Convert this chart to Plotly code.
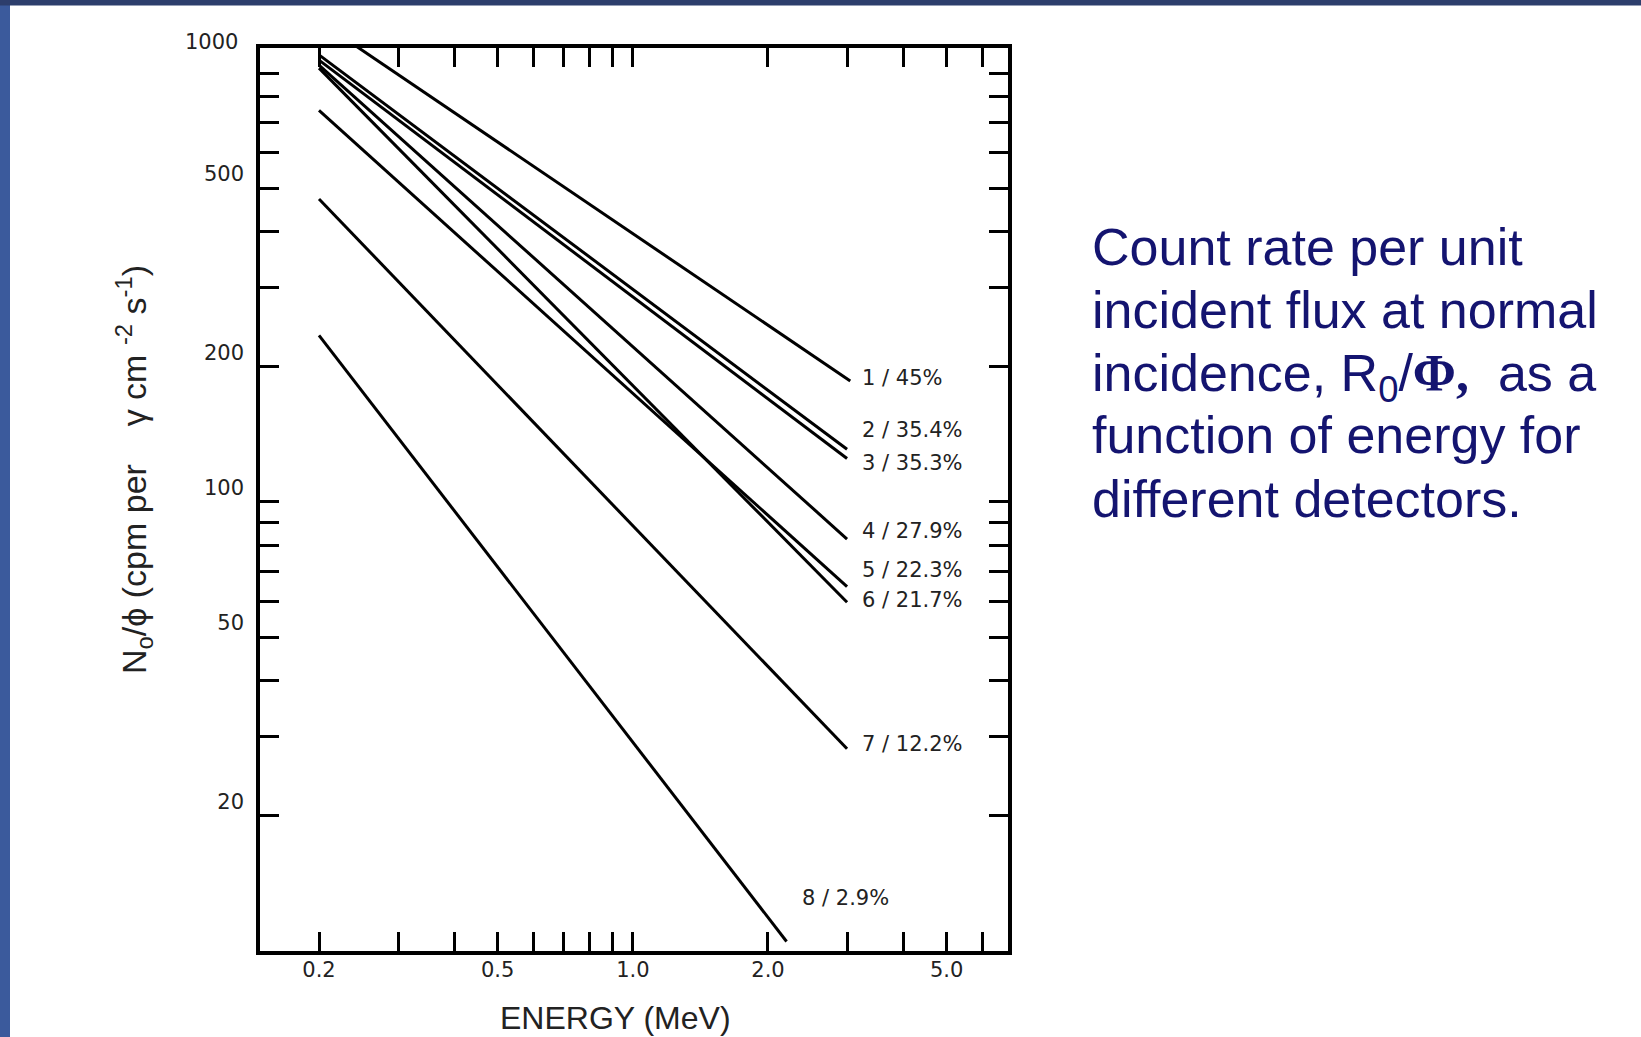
import math
import plotly.graph_objects as go

# ---------------- data ----------------
detectors = ["1 / 45%", "2 / 35.4%", "3 / 35.3%", "4 / 27.9%",
             "5 / 22.3%", "6 / 21.7%", "7 / 12.2%", "8 / 2.9%"]
energy_start = [0.2, 0.2, 0.2, 0.2, 0.2, 0.2, 0.2, 0.2]          # MeV
energy_end = [3.05, 3.0, 3.0, 3.0, 3.0, 3.0, 3.0, 2.2]           # MeV
rate_start = [1178, 990, 964, 940, 745, 925, 473, 235]           # N0/phi
rate_end = [186, 131, 125, 82.7, 64.8, 59.8, 28.2, 10.5]
label_energy = [3.2, 3.2, 3.2, 3.2, 3.2, 3.2, 3.2, 2.36]
label_rate = [189, 145, 122, 86.3, 70.6, 60.5, 28.9, 13.1]

x_tickvals = [0.2, 0.3, 0.4, 0.5, 0.6, 0.7, 0.8, 0.9, 1, 2, 3, 4, 5, 6]
x_ticktext = ["0.2", "", "", "0.5", "", "", "", "", "1.0", "2.0", "", "", "5.0", ""]
y_tickvals = [20, 30, 40, 50, 60, 70, 80, 90, 100, 200, 300, 400, 500, 600, 700, 800, 900]
y_ticktext = ["20", "", "", "50", "", "", "", "", "100", "200", "", "", "500", "", "", "", ""]
y_top_label = "1000"

x_title = "ENERGY (MeV)"
y_title = "N<sub>o</sub>/ϕ (cpm per\u00a0\u00a0\u00a0 γ cm <sup>-2</sup> s<sup>-1</sup>)"
side_lines = ["Count rate per unit",
              "incident flux at normal",
              "incidence, R<sub>0</sub>/<span style=\"font-family:'Liberation Serif'\"><b>Φ,</b></span>\u00a0 as a",
              "function of energy for",
              "different detectors."]

# ---------------- figure ----------------
W, H = 1641, 1037
L, R, T, B = 260, 1008, 48, 951
fig = go.Figure()

for name, e0, e1, r0, r1 in zip(detectors, energy_start, energy_end, rate_start, rate_end):
    fig.add_trace(go.Scatter(x=[e0, e1], y=[r0, r1], mode="lines", name=name,
                             line=dict(color="black", width=3), showlegend=False,
                             hoverinfo="skip"))

for name, le, lr in zip(detectors, label_energy, label_rate):
    fig.add_annotation(x=math.log10(le), y=math.log10(lr), xref="x", yref="y",
                       text=name, showarrow=False, xanchor="left", yanchor="middle",
                       font=dict(family="DejaVu Sans", size=21, color="#222222"))


def px_to_paper_x(px):
    return (px - L) / (R - L)


def px_to_paper_y(py):
    return (B - py) / (B - T)


TICK_FONT = dict(family="DejaVu Sans", size=21, color="#222222")

# top "1000" label (no tick at that value)
fig.add_annotation(x=px_to_paper_x(240), y=px_to_paper_y(42), xref="paper", yref="paper",
                   text=y_top_label, showarrow=False, xanchor="right", yanchor="middle",
                   font=TICK_FONT)

# y-axis title
fig.add_annotation(x=px_to_paper_x(134), y=px_to_paper_y(470), xref="paper", yref="paper",
                   text=y_title, showarrow=False, textangle=-90,
                   xanchor="center", yanchor="middle",
                   font=dict(family="Liberation Sans", size=34, color="#222222"))

# x-axis title
fig.add_annotation(x=px_to_paper_x(615), y=px_to_paper_y(1018), xref="paper", yref="paper",
                   text=x_title, showarrow=False, xanchor="center", yanchor="middle",
                   font=dict(family="Liberation Sans", size=32, color="#222222"))

# side description, one annotation per line
side_centers = [247, 310, 373, 435, 499]
for txt, cy in zip(side_lines, side_centers):
    fig.add_annotation(x=px_to_paper_x(1090), y=px_to_paper_y(cy - 31), xref="paper", yref="paper",
                       text=txt, showarrow=False, xanchor="left", yanchor="top",
                       align="left",
                       font=dict(family="Liberation Sans, Arial", size=52, color="#141470"))

# slide border (left and top)
fig.add_shape(type="rect", xref="paper", yref="paper",
              x0=px_to_paper_x(0), x1=px_to_paper_x(10), y0=px_to_paper_y(H), y1=px_to_paper_y(0),
              fillcolor="#3b5a9c", line=dict(width=0), layer="above")
fig.add_shape(type="rect", xref="paper", yref="paper",
              x0=px_to_paper_x(0), x1=px_to_paper_x(W), y0=px_to_paper_y(5.5), y1=px_to_paper_y(0),
              fillcolor="#2d3e6c", line=dict(width=0), layer="above")

axis_common = dict(type="log", showgrid=False, zeroline=False, showline=True,
                   linecolor="black", linewidth=3.5, mirror="ticks",
                   ticks="inside", ticklen=19, tickwidth=3, tickcolor="black",
                   tickfont=TICK_FONT)

fig.update_xaxes(**axis_common, range=[-0.8304, 0.8356],
                 tickmode="array", tickvals=x_tickvals, ticktext=x_ticktext,
                 ticklabelstandoff=-3)
fig.update_yaxes(**axis_common, range=[1.0, 3.011],
                 tickmode="array", tickvals=y_tickvals, ticktext=y_ticktext,
                 ticklabelshift=-14, ticklabelstandoff=8)

fig.update_layout(width=W, height=H,
                  margin=dict(l=L, r=W - R, t=T, b=H - B, pad=0),
                  paper_bgcolor="white", plot_bgcolor="white",
                  showlegend=False)

fig.write_html("out.html")
